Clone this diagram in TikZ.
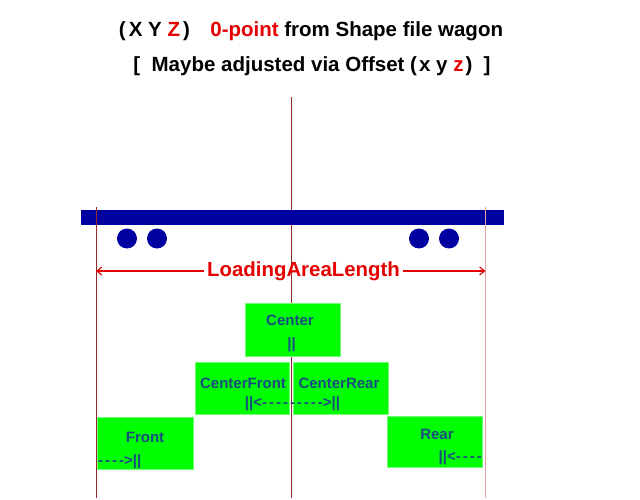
\documentclass[tikz,border=0pt]{standalone}
\usepackage{fontspec}
\setmainfont{Liberation Sans}
\usetikzlibrary{arrows.meta}
\definecolor{wagonblue}{RGB}{0,0,160}
\definecolor{boxtext}{RGB}{25,75,130}
\definecolor{linered}{RGB}{150,40,45}
\definecolor{linepink}{RGB}{235,160,160}
\definecolor{labelred}{RGB}{230,0,0}
\newcommand{\dsh}{{-}\kern2pt}
\begin{document}
\begin{tikzpicture}[x=1pt,y=-1pt,
  posbox/.style={fill=green, draw=green!55!white, line width=0.8pt, minimum width=94pt, minimum height=52pt, inner sep=0pt},
  boxlabel/.style={text=boxtext, font=\bfseries\fontsize{15}{17}\selectfont, inner sep=0pt},
  titletext/.style={font=\bfseries\fontsize{20.5}{24}\selectfont, inner sep=0pt},
  wheel/.style={circle, fill=wagonblue, minimum size=20pt, inner sep=0pt},
  guide/.style={line width=1pt, draw=linered},
  dimarrow/.style={draw=labelred, line width=1.1pt, -{Straight Barb[length=5pt,width=8pt]}}
]
\useasboundingbox (0,0) rectangle (640,500);
\fill[white] (0,0) rectangle (640,500);

% titles
\node[titletext] (t1) at (311,31) {(\kern3pt X Y {\color{labelred}Z}\kern3pt)\quad{\color{labelred}0{-}point} from Shape file wagon};
\node[titletext] (t2) at (312,66) {[\ \ Maybe adjusted via Offset (\kern2pt x y {\color{labelred}z}\kern2pt)\ \ ]};

% guide coordinates
\coordinate (ctop) at (291.5,97);
\coordinate (cbot) at (291.5,498);
\coordinate (ltop) at (96,207);
\coordinate (lbot) at (96,498);
\coordinate (rtop) at (485.5,207);
\coordinate (rbot) at (485.5,498);
\coordinate (larr) at (96,271);
\coordinate (rarr) at (485.5,271);

\draw[guide] (ctop) -- (cbot);

% wagon
\node[fill=wagonblue, minimum width=423pt, minimum height=15pt, inner sep=0pt] (bar) at (292.5,217.5) {};
\node[wheel] (w1) at (127,238.5) {};
\node[wheel] (w2) at (157,238.5) {};
\node[wheel] (w3) at (419,238.5) {};
\node[wheel] (w4) at (449,238.5) {};

\draw[guide] (ltop) -- (lbot);
\draw[guide, draw=linepink] (rtop) -- (rbot);

% dimension
\node[text=labelred, font=\bfseries\fontsize{20.4}{24}\selectfont, inner sep=2.5pt] (lal) at (303.5,271) {LoadingAreaLength};
\draw[dimarrow] (lal.west) -- (larr);
\draw[dimarrow] (lal.east) -- (rarr);

% boxes
\node[posbox, minimum width=95pt, minimum height=53pt] (center) at (292.5,329.5) {};
\node[posbox] (cfront) at (242,388) {};
\node[posbox, minimum width=95pt] (crear) at (340.5,388) {};
\node[posbox, minimum width=96pt] (front) at (145,443) {};
\node[posbox, minimum width=95pt, minimum height=51pt] (rear) at (434.5,441.5) {};

% box texts
\node[boxlabel] (centert) at (290,320) {Center};
\node[boxlabel] (centerb) at (291.5,345) {||};
\node[boxlabel] (cfrontt) at (243,383) {CenterFront};
\node[boxlabel] (creart) at (339,383) {CenterRear};
\node[boxlabel] (cmid) at (292.5,404) {||<\dsh\dsh\dsh\dsh\dsh\dsh\dsh\dsh{-}>||};
\node[boxlabel] (frontt) at (145,437) {Front};
\node[boxlabel, anchor=west] (frontb) at (98,462) {\dsh\dsh\dsh{-}>||};
\node[boxlabel] (reart) at (437,434) {Rear};
\node[boxlabel, anchor=east] (rearb) at (482,458) {||<\dsh\dsh\dsh{-}};
\end{tikzpicture}
\end{document}
